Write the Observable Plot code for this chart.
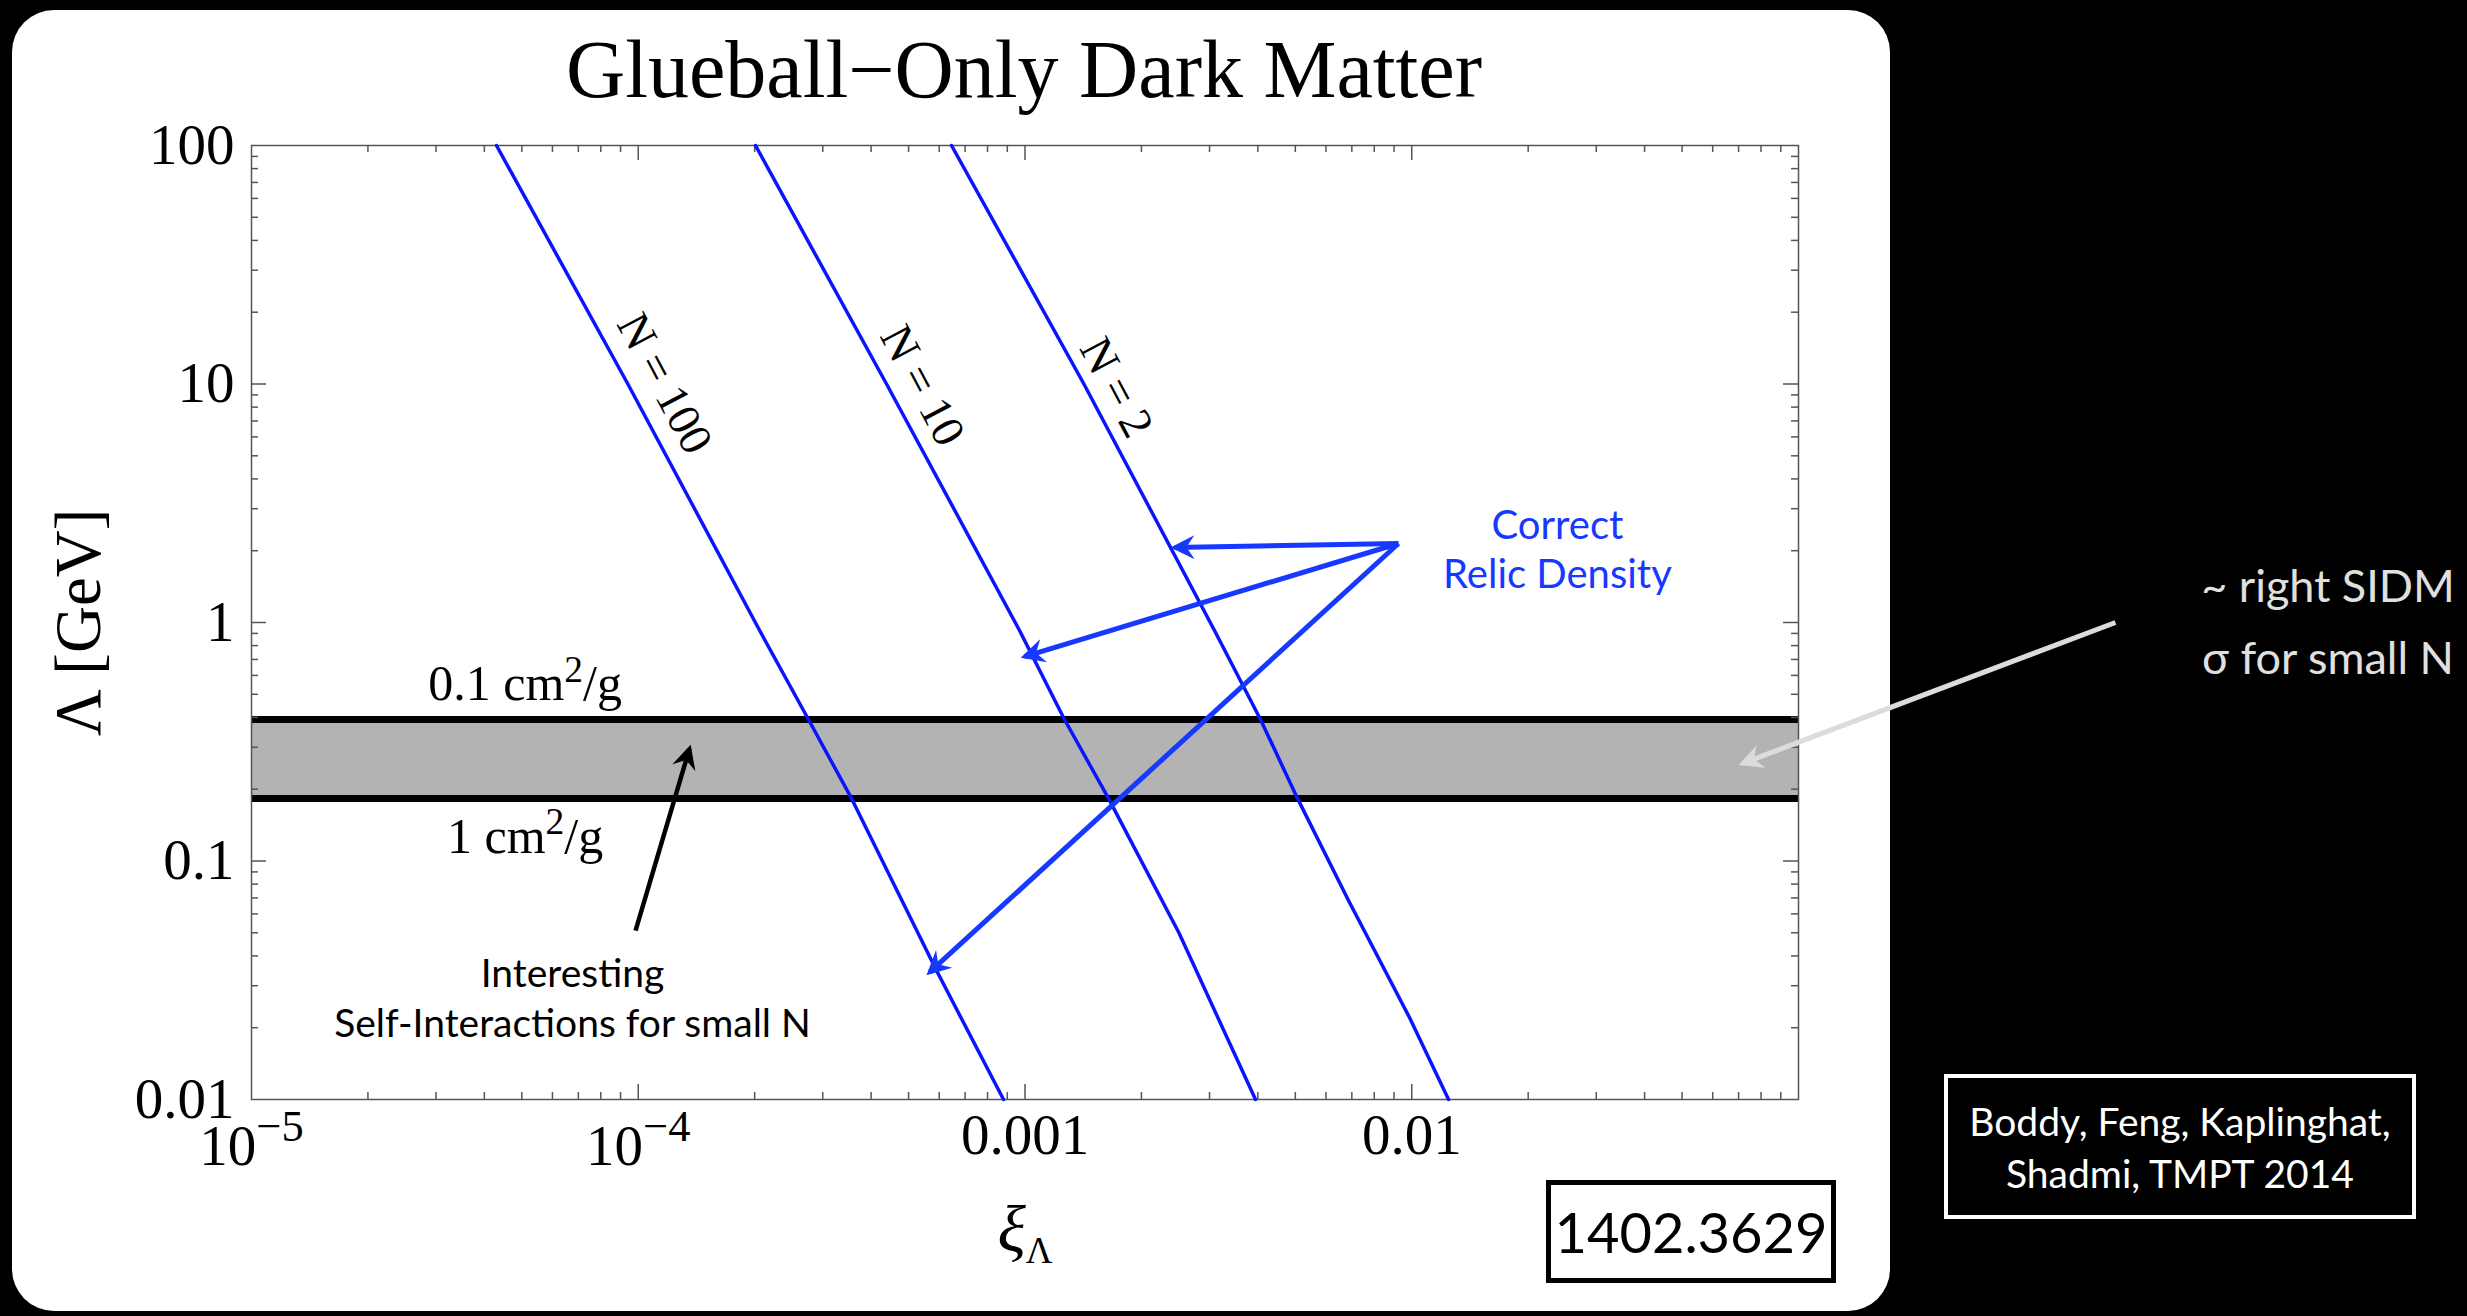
<!DOCTYPE html>
<html>
<head>
<meta charset="utf-8">
<script src="https://cdn.jsdelivr.net/npm/d3@7"></script>
<script src="https://cdn.jsdelivr.net/npm/@observablehq/plot@0.6"></script>
<style>
html, body { margin: 0; padding: 0; background: #000; }
#page { position: relative; width: 2467px; height: 1316px; overflow: hidden; background: #000; }
#panel { position: absolute; left: 12px; top: 10px; width: 1878px; height: 1301px; background: #fff; border-radius: 42px; }
#title { position: absolute; left: 0; width: 2048px; top: 29px; text-align: center; font: 82px/82px "Liberation Serif", serif; color: #000; white-space: nowrap; }
#chart { position: absolute; left: 0; top: 0; width: 2467px; height: 1316px; }
#arxiv { position: absolute; left: 1546px; top: 1180px; width: 290px; height: 103px; box-sizing: border-box; border: 5px solid #000; display: flex; align-items: center; justify-content: center; font: 56px/56px Lato, sans-serif; color: #000; }
#sidm { position: absolute; left: 2168px; width: 320px; top: 549px; text-align: center; font: 45px/72px Lato, sans-serif; color: #e0e0e0; white-space: nowrap; }
#cite { position: absolute; left: 1944px; top: 1074px; width: 472px; height: 145px; box-sizing: border-box; border: 4px solid #fff; display: flex; align-items: center; justify-content: center; text-align: center; font: 39px/52px Lato, sans-serif; color: #fff; white-space: nowrap; }
</style>
</head>
<body>
<div id="page">
  <div id="panel"></div>
  <div id="title">Glueball−Only Dark Matter</div>
  <div id="chart"></div>
  <div id="arxiv">1402.3629</div>
  <div id="sidm">~ right SIDM<br>σ for small N</div>
  <div id="cite"><div>Boddy, Feng, Kaplinghat,<br>Shadmi, TMPT 2014</div></div>
</div>
<script>
// ---------- axes ----------
const xDomain = [1e-5, 0.1];
const yDomain = [0.01, 100];
const xTicks = [1e-5, 1e-4, 1e-3, 1e-2];
const xTickLabels = ["10^{−5}", "10^{−4}", "0.001", "0.01"];
const yTicks = [0.01, 0.1, 1, 10, 100];
const yTickLabels = ["0.01", "0.1", "1", "10", "100"];
const xLabel = "ξ_{Λ}";
const yLabel = "Λ [GeV]";

// ---------- relic-density curves (xi, Lambda in GeV) ----------
const curveNames = ["N = 100", "N = 10", "N = 2"];
const xiN100  = [4.30e-5, 9.4e-5, 2.06e-4, 2.755e-4, 3.56e-4, 5.90e-4, 8.80e-4];
const lamN100 = [100, 10, 0.926, 0.392, 0.183, 0.0348, 0.01];
const xiN10   = [2.01e-4, 4.385e-4, 9.68e-4, 1.265e-3, 1.644e-3, 2.50e-3, 3.945e-3];
const lamN10  = [100, 10, 0.926, 0.392, 0.183, 0.0500, 0.01];
const xiN2    = [6.457e-4, 1.42e-3, 3.09e-3, 4.064e-3, 5.065e-3, 6.862e-3, 9.867e-3, 0.01245];
const lamN2   = [100, 10, 0.926, 0.392, 0.183, 0.0683, 0.02207, 0.01];

// curve labels
const curveLabelXi  = [1.169e-4, 5.43e-4, 1.724e-3];
const curveLabelLam = [10.05, 9.86, 9.67];

// ---------- SIDM band ----------
const bandLambda = [0.392, 0.183];          // 0.1 cm^2/g (top), 1 cm^2/g (bottom)
const bandLabels = ["0.1 cm^{2}/g", "1 cm^{2}/g"];
const bandLabelXi = [5.1e-5, 5.1e-5];
const bandLabelLam = [0.471, 0.1085];

// ---------- annotations ----------
const relicText = "Correct\nRelic Density";
const relicTextXi = 0.02381, relicTextLam = 1.402;
const relicFromXi = 0.00924, relicFromLam = 2.144;
const relicToXi  = [0.002435, 0.000997, 0.000566];
const relicToLam = [2.063, 0.720, 0.0341];

const siText = "Interesting\nSelf-Interactions for small N";
const siTextXi = 6.76e-5, siTextLam = 0.0182;
const siArrowXi = [9.84e-5, 1.357e-4];
const siArrowLam = [0.0511, 0.2962];

const sidmArrowXi = [0.66, 0.0716];
const sidmArrowLam = [1.0, 0.2564];

// ---------- build tables ----------
const curves = [];
[[xiN100, lamN100], [xiN10, lamN10], [xiN2, lamN2]].forEach(([xs, ls], k) =>
  xs.forEach((x, i) => curves.push({N: curveNames[k], xi: x, lam: ls[i]})));
const curveLabels = curveNames.map((t, i) => ({t, xi: curveLabelXi[i], lam: curveLabelLam[i]}));
const bandText = bandLabels.map((t, i) => ({t, xi: bandLabelXi[i], lam: bandLabelLam[i]}));
const relicArrows = relicToXi.map((x, i) => ({x1: relicFromXi, y1: relicFromLam, x2: x, y2: relicToLam[i]}));
const siArrow = [{x1: siArrowXi[0], y1: siArrowLam[0], x2: siArrowXi[1], y2: siArrowLam[1]}];
const sidmArrow = [{x1: sidmArrowXi[0], y1: sidmArrowLam[0], x2: sidmArrowXi[1], y2: sidmArrowLam[1]}];

const xMinor = [], yMinor = [];
for (let e = -5; e <= -2; e++) for (let k = 2; k <= 9; k++) xMinor.push(k * Math.pow(10, e));
for (let e = -2; e <= 1; e++) for (let k = 2; k <= 9; k++) yMinor.push(k * Math.pow(10, e));
const xMajorInner = xTicks.slice(1);
const yMajorInner = yTicks.slice(1, -1);

// ---------- layout ----------
const W = 2467, H = 1316;
const mL = 251, mR = 669, mT = 145, mB = 217;
const frameW = W - mL - mR, frameH = H - mT - mB;
const majorLen = 15, minorLen = 7;
const tickStyle = {stroke: "#555", strokeWidth: 1.5};
const serif = "'Liberation Serif', 'Times New Roman', serif";
const sans = "Lato, 'Open Sans', sans-serif";
const curveColor = "#0a14ff";
const arrowBlue = "#1638ff";

const ns = "http://www.w3.org/2000/svg";
function headMarker(color) {
  const m = document.createElementNS(ns, "marker");
  m.setAttribute("viewBox", "-13 -7 14 14");
  m.setAttribute("refX", "-2");
  m.setAttribute("refY", "0");
  m.setAttribute("markerWidth", "28");
  m.setAttribute("markerHeight", "28");
  m.setAttribute("markerUnits", "userSpaceOnUse");
  m.setAttribute("orient", "auto");
  m.setAttribute("overflow", "visible");
  const p = document.createElementNS(ns, "path");
  p.setAttribute("d", "M0,0L-12,-6L-8,0L-12,6Z");
  p.setAttribute("fill", color);
  p.setAttribute("stroke", "none");
  m.appendChild(p);
  return m;
}

function arrowMarks(useMarker) {
  const spec = [
    [relicArrows, arrowBlue, 5],
    [siArrow, "#000", 4.5],
    [sidmArrow, "#dcdcdc", 5]
  ];
  return spec.map(([data, color, w]) => useMarker
    ? Plot.link(data, {x1: "x1", y1: "y1", x2: "x2", y2: "y2", stroke: color, strokeWidth: w, markerEnd: headMarker})
    : Plot.arrow(data, {x1: "x1", y1: "y1", x2: "x2", y2: "y2", stroke: color, strokeWidth: w, headLength: 26, headAngle: 50}));
}

function build(useMarker) {
  return Plot.plot({
    width: W, height: H,
    marginLeft: mL, marginRight: mR, marginTop: mT, marginBottom: mB,
    style: {background: "transparent", color: "black", fontFamily: serif},
    x: {type: "log", domain: xDomain, axis: null},
    y: {type: "log", domain: yDomain, axis: null},
    marks: [
      // SIDM band
      Plot.rect([bandLambda], {x1: () => xDomain[0], x2: () => xDomain[1], y1: d => d[1], y2: d => d[0], fill: "#b3b3b3"}),
      Plot.ruleY(bandLambda, {y: d => d, stroke: "#000", strokeWidth: 7}),
      // frame ticks (inside, all four sides)
      Plot.ruleX(xMajorInner, {x: d => d, insetTop: frameH - majorLen, ...tickStyle}),
      Plot.ruleX(xMajorInner, {x: d => d, insetBottom: frameH - majorLen, ...tickStyle}),
      Plot.ruleX(xMinor, {x: d => d, insetTop: frameH - minorLen, ...tickStyle}),
      Plot.ruleX(xMinor, {x: d => d, insetBottom: frameH - minorLen, ...tickStyle}),
      Plot.ruleY(yMajorInner, {y: d => d, insetRight: frameW - majorLen, ...tickStyle}),
      Plot.ruleY(yMajorInner, {y: d => d, insetLeft: frameW - majorLen, ...tickStyle}),
      Plot.ruleY(yMinor, {y: d => d, insetRight: frameW - minorLen, ...tickStyle}),
      Plot.ruleY(yMinor, {y: d => d, insetLeft: frameW - minorLen, ...tickStyle}),
      Plot.frame({stroke: "#555", strokeWidth: 1.5}),
      // axes labels
      Plot.axisX({ticks: xTicks, tickFormat: d => xTickLabels[xTicks.indexOf(d)], tickSize: 0, tickPadding: 14, fontSize: 57, fontFamily: serif, label: null, anchor: "bottom"}),
      Plot.axisY({ticks: yTicks, tickFormat: d => yTickLabels[yTicks.indexOf(d)], tickSize: 0, tickPadding: 17, fontSize: 57, fontFamily: serif, label: null, anchor: "left"}),
      Plot.text([yLabel], {text: d => d, frameAnchor: "left", textAnchor: "middle", dx: -172, rotate: -90, fontSize: 65, fontFamily: serif}),
      Plot.text([xLabel], {text: d => d, frameAnchor: "bottom", textAnchor: "middle", dy: 151, lineAnchor: "bottom", fontSize: 66, fontFamily: serif, fontStyle: "italic", ariaDescription: "x label"}),
      // curves
      Plot.line(curves, {x: "xi", y: "lam", z: "N", stroke: curveColor, strokeWidth: 3.5}),
      Plot.text(curveLabels, {x: "xi", y: "lam", text: "t", rotate: 62, fontSize: 46, fontFamily: serif}),
      // band labels
      Plot.text(bandText, {x: "xi", y: "lam", text: "t", lineAnchor: "bottom", fontSize: 50, fontFamily: serif, ariaDescription: "band labels"}),
      // annotations
      ...arrowMarks(useMarker),
      Plot.text([relicText], {x: () => relicTextXi, y: () => relicTextLam, text: d => d, lineAnchor: "bottom", lineHeight: 1.22, fontSize: 40, fontFamily: sans, fill: arrowBlue}),
      Plot.text([siText], {x: () => siTextXi, y: () => siTextLam, text: d => d, lineAnchor: "bottom", lineHeight: 1.3, fontSize: 39, fontFamily: sans, fill: "#000"})
    ]
  });
}

let chart;
try { chart = build(true); } catch (e) { chart = build(false); }

// rich text: ^{sup} and _{sub}
function rich(textEl, str, {supScale = 0.75, supShift = 0.5, subScale = 0.6, subShift = 0.3, baseDy = 0, subStyle = null} = {}) {
  textEl.textContent = "";
  const parts = str.split(/(\^\{[^}]*\}|_\{[^}]*\})/);
  let pending = 0, first = true;
  parts.forEach(p => {
    if (p === "") return;
    const ts = document.createElementNS(ns, "tspan");
    if (p.startsWith("^{")) {
      ts.textContent = p.slice(2, -1);
      ts.setAttribute("font-size", supScale + "em");
      ts.setAttribute("dy", (-supShift + (first ? baseDy / supScale : 0) - pending / supScale) + "em");
      pending = -supShift * supScale;
    } else if (p.startsWith("_{")) {
      ts.textContent = p.slice(2, -1);
      ts.setAttribute("font-size", subScale + "em");
      if (subStyle) ts.setAttribute("font-style", subStyle);
      ts.setAttribute("dy", (subShift - pending / subScale) + "em");
      pending = subShift * subScale;
    } else {
      ts.textContent = p;
      const dy = (first ? baseDy : 0) - pending;
      if (dy) ts.setAttribute("dy", dy + "em");
      pending = 0;
    }
    first = false;
    textEl.appendChild(ts);
  });
}
chart.querySelectorAll('g[aria-label="x-axis tick label"] text').forEach(t => {
  if (t.textContent.includes("^")) rich(t, t.textContent, {supScale: 0.78, supShift: 0.55, baseDy: 0.2});
});
chart.querySelectorAll('text').forEach(t => {
  const s = t.textContent;
  if (s.includes("cm^{")) rich(t, s);
  else if (s.includes("_{")) rich(t, s, {subScale: 0.56, subShift: 0.35, subStyle: "normal"});
});

document.getElementById("chart").appendChild(chart);
</script>
</body>
</html>
